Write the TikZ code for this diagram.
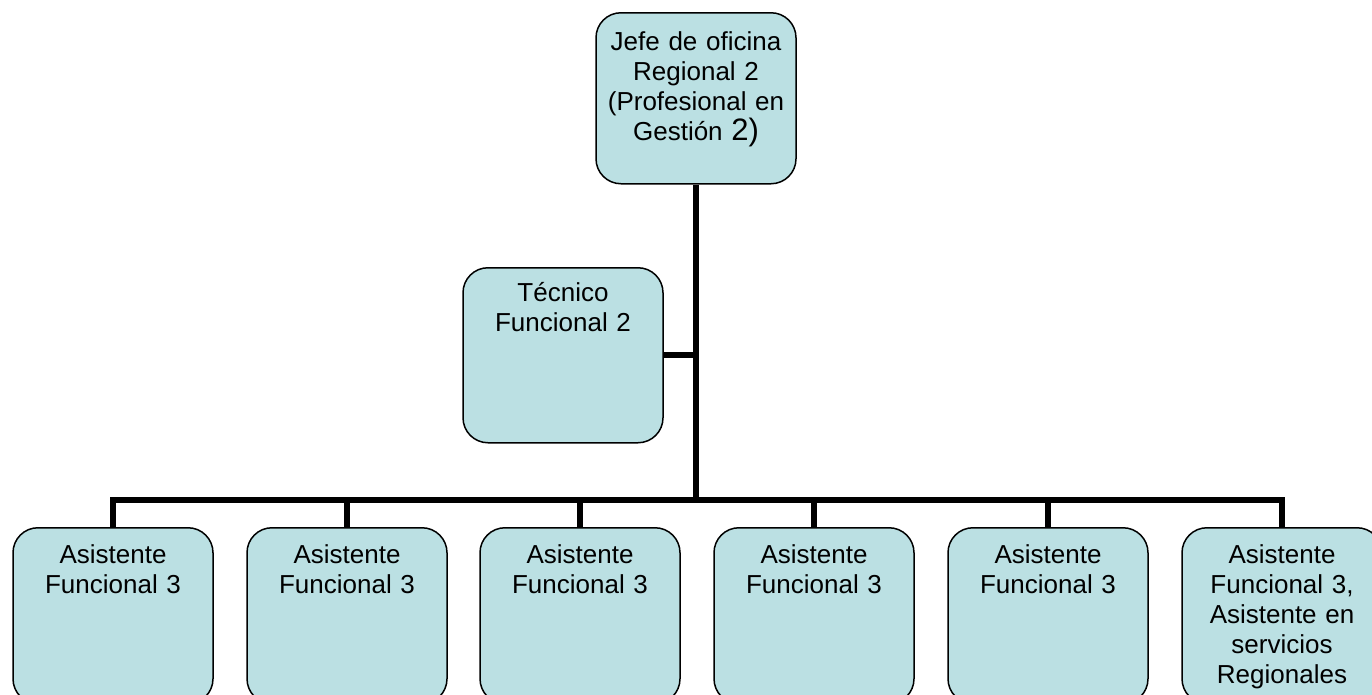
\documentclass[tikz,border=0pt]{standalone}
\usepackage{fontspec}
\setmainfont{Liberation Sans}
\definecolor{boxfill}{RGB}{187,224,227}
\begin{document}
\begin{tikzpicture}[x=1pt,y=-1pt,
  orgbox/.style={draw=black,line width=1.5pt,fill=boxfill,rounded corners=25pt,
    minimum width=200pt,minimum height=#1,inner sep=0pt,anchor=north},
  orgbox/.default=172pt,
  boxtext/.style={anchor=north,inner sep=0pt,align=center,text width=196pt,
    font=\fontsize{26}{30}\selectfont},
  conn/.style={line width=6pt}]
\useasboundingbox (0,0) rectangle (1372,694);
\clip (0,0) rectangle (1372,694);
% top box
\node[orgbox=171pt] (top) at (696,12) {};
\node[boxtext] (toptxt) at (696,31) {Jefe de oficina\\Regional 2\\(Profesional en\\Gestión {\fontsize{31}{30}\selectfont 2)}};
% technical box
\node[orgbox=175pt] (tec) at (563,267) {};
\node[boxtext] (tectxt) at (563,282) {Técnico\\Funcional 2};
% bottom boxes
\foreach \i/\x in {1/113,2/347,3/580,4/814,5/1048}{
  \node[orgbox=176pt] (b\i) at (\x,527) {};
  \node[boxtext] (t\i) at (\x,544) {Asistente\\Funcional 3};
}
\node[orgbox=176pt] (b6) at (1282,527) {};
\node[boxtext] (t6) at (1282,544) {Asistente\\Funcional 3,\\Asistente en\\servicios\\Regionales};
% connectors
\coordinate (bus) at (696,500);
\coordinate (tecj) at (696,355);
\draw[conn] (top.south) -- (bus);
\draw[conn] (tec.east |- tecj) -- (tecj);
\draw[conn,line cap=rect] (b1.north |- bus) -- (b6.north |- bus);
\foreach \i in {1,...,6}{
  \draw[conn] (b\i.north |- bus) -- (b\i.north);
}
\end{tikzpicture}
\end{document}
